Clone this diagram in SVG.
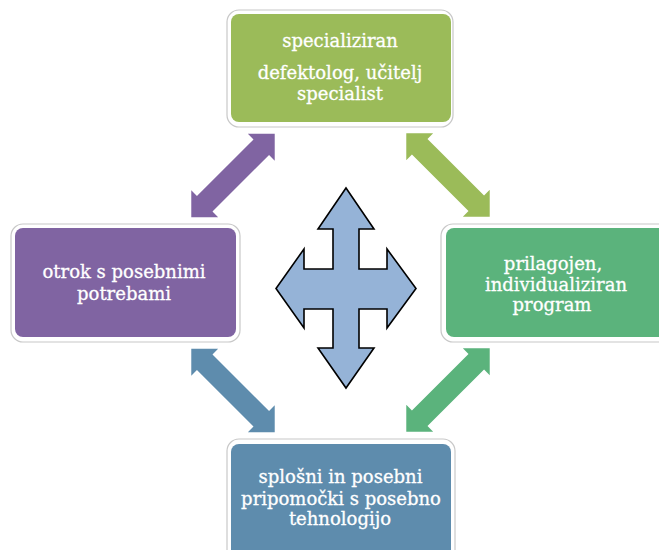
<svg xmlns="http://www.w3.org/2000/svg" width="659" height="550" viewBox="0 0 659 550">
<style>
.frame{fill:#ffffff;stroke:#c8c8c8;stroke-width:1.2}
.lbl{font-family:"DejaVu Serif","Liberation Serif",serif;font-size:18px;fill:#ffffff;stroke:#ffffff;stroke-width:0.3;text-anchor:middle}
.cross{fill:#95B3D7;stroke:#000000;stroke-width:1.6;stroke-linejoin:miter}
</style>
<defs>
<path id="dbl" d="M59,0 L40,-19 L40,-11 L-40,-11 L-40,-19 L-59,0 L-40,19 L-40,11 L40,11 L40,19 Z"/>
</defs>
<rect width="659" height="550" fill="#ffffff"/>
<g id="connectors">
<use href="#dbl" transform="translate(233,175.5) rotate(-45)" fill="#8064A2"/>
<use href="#dbl" transform="translate(448,175) rotate(45)" fill="#9BBB59"/>
<use href="#dbl" transform="translate(233,390.5) rotate(45)" fill="#5E8CAD"/>
<use href="#dbl" transform="translate(448,390) rotate(-45)" fill="#5BB37C"/>
</g>
<g id="node-top">
<rect class="frame" x="227" y="10" width="226" height="117" rx="12"/>
<rect x="231" y="14" width="220" height="108" rx="8" fill="#9BBB59"/>
<text class="lbl" x="340" y="47">specializiran</text>
<text class="lbl" x="340" y="79">defektolog, učitelj</text>
<text class="lbl" x="340" y="100">specialist</text>
</g>
<g id="node-left">
<rect class="frame" x="11" y="224" width="229" height="118" rx="12"/>
<rect x="15" y="228" width="221" height="109" rx="8" fill="#8064A2"/>
<text class="lbl" x="124" y="278">otrok s posebnimi</text>
<text class="lbl" x="124" y="300">potrebami</text>
</g>
<g id="node-right">
<rect class="frame" x="441" y="224" width="240" height="118" rx="12"/>
<rect x="446" y="228" width="230" height="109" rx="8" fill="#5BB37C"/>
<text class="lbl" x="553" y="270">prilagojen,</text>
<text class="lbl" x="556" y="290.5">individualiziran</text>
<text class="lbl" x="552" y="311">program</text>
</g>
<g id="node-bottom">
<rect class="frame" x="227" y="439" width="228" height="130" rx="12"/>
<rect x="231" y="444" width="220" height="120" rx="8" fill="#5E8CAD"/>
<text class="lbl" x="340.5" y="483">splošni in posebni</text>
<text class="lbl" x="341" y="505">pripomočki s posebno</text>
<text class="lbl" x="340" y="525">tehnologijo</text>
</g>
<g id="node-center">
<path class="cross" d="M346,188 L374,229 L359,229 L359,269 L387,269 L387,249 L416,288.5 L387,328 L387,309 L359,309 L359,348 L374,348 L346,388 L318,348 L333,348 L333,309 L304,309 L304,328 L276,288.5 L304,249 L304,269 L333,269 L333,229 L318,229 Z"/>
</g>
</svg>
